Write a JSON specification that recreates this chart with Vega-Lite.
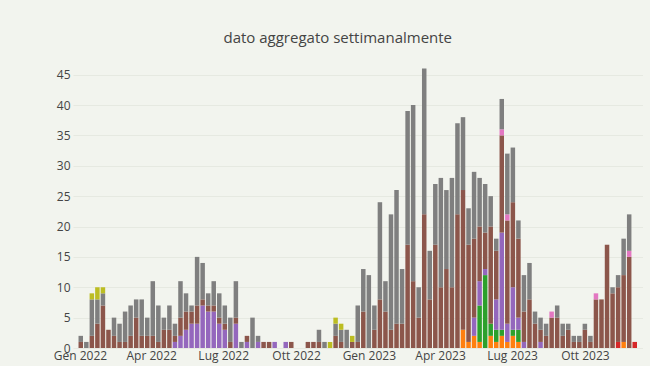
{
"$schema": "https://vega.github.io/schema/vega-lite/v6.json",
"width": 569.5, "height": 294,
"autosize": {"type": "none"},
"padding": {"left": 73, "top": 54, "right": 7.5, "bottom": 18},
"background": "#f2f4ee",
"config": {"view": {"stroke": null}, "font": "Open Sans"},
"title": {"text": "dato aggregato settimanalmente", "fontSize": 15, "fontWeight": "normal", "color": "#444444", "dx": -20, "offset": 8, "font": "Open Sans"},
"data": {"values": [
{"d":"2022-01-02","c":"E","n":1},{"d":"2022-01-02","c":"G","n":1},
{"d":"2022-01-09","c":"G","n":1},
{"d":"2022-01-16","c":"E","n":2},{"d":"2022-01-16","c":"G","n":6},{"d":"2022-01-16","c":"H","n":1},
{"d":"2022-01-23","c":"E","n":4},{"d":"2022-01-23","c":"G","n":4},{"d":"2022-01-23","c":"H","n":2},
{"d":"2022-01-30","c":"E","n":7},{"d":"2022-01-30","c":"G","n":2},{"d":"2022-01-30","c":"H","n":1},
{"d":"2022-02-06","c":"E","n":3},
{"d":"2022-02-13","c":"E","n":2},{"d":"2022-02-13","c":"G","n":3},
{"d":"2022-02-20","c":"E","n":1},{"d":"2022-02-20","c":"G","n":3},
{"d":"2022-02-27","c":"E","n":1},{"d":"2022-02-27","c":"G","n":5},
{"d":"2022-03-06","c":"E","n":2},{"d":"2022-03-06","c":"G","n":5},
{"d":"2022-03-13","c":"E","n":5},{"d":"2022-03-13","c":"G","n":3},
{"d":"2022-03-20","c":"E","n":2},{"d":"2022-03-20","c":"G","n":6},
{"d":"2022-03-27","c":"E","n":2},{"d":"2022-03-27","c":"G","n":3},
{"d":"2022-04-03","c":"E","n":2},{"d":"2022-04-03","c":"G","n":9},
{"d":"2022-04-10","c":"E","n":1},{"d":"2022-04-10","c":"G","n":6},
{"d":"2022-04-17","c":"E","n":3},{"d":"2022-04-17","c":"G","n":2},
{"d":"2022-04-24","c":"E","n":3},{"d":"2022-04-24","c":"G","n":4},
{"d":"2022-05-01","c":"D","n":1},{"d":"2022-05-01","c":"E","n":1},{"d":"2022-05-01","c":"G","n":2},
{"d":"2022-05-08","c":"D","n":2},{"d":"2022-05-08","c":"E","n":3},{"d":"2022-05-08","c":"G","n":6},
{"d":"2022-05-15","c":"D","n":3},{"d":"2022-05-15","c":"E","n":3},{"d":"2022-05-15","c":"G","n":3},
{"d":"2022-05-22","c":"D","n":4},{"d":"2022-05-22","c":"E","n":2},{"d":"2022-05-22","c":"G","n":1},
{"d":"2022-05-29","c":"D","n":4},{"d":"2022-05-29","c":"E","n":3},{"d":"2022-05-29","c":"G","n":8},
{"d":"2022-06-05","c":"D","n":7},{"d":"2022-06-05","c":"E","n":1},{"d":"2022-06-05","c":"G","n":6},
{"d":"2022-06-12","c":"D","n":6},{"d":"2022-06-12","c":"E","n":1},{"d":"2022-06-12","c":"G","n":2},
{"d":"2022-06-19","c":"D","n":6},{"d":"2022-06-19","c":"E","n":1},{"d":"2022-06-19","c":"G","n":4},
{"d":"2022-06-26","c":"D","n":4},{"d":"2022-06-26","c":"E","n":1},{"d":"2022-06-26","c":"G","n":4},
{"d":"2022-07-03","c":"D","n":3},{"d":"2022-07-03","c":"E","n":1},{"d":"2022-07-03","c":"G","n":3},
{"d":"2022-07-10","c":"E","n":1},{"d":"2022-07-10","c":"G","n":4},
{"d":"2022-07-17","c":"D","n":4},{"d":"2022-07-17","c":"E","n":1},{"d":"2022-07-17","c":"G","n":6},
{"d":"2022-07-24","c":"G","n":1},
{"d":"2022-07-31","c":"D","n":1},{"d":"2022-07-31","c":"E","n":1},
{"d":"2022-08-07","c":"G","n":5},
{"d":"2022-08-14","c":"D","n":1},{"d":"2022-08-14","c":"G","n":1},
{"d":"2022-08-21","c":"E","n":1},
{"d":"2022-08-28","c":"E","n":1},
{"d":"2022-09-04","c":"D","n":1},
{"d":"2022-09-18","c":"D","n":1},
{"d":"2022-09-25","c":"E","n":1},
{"d":"2022-10-16","c":"E","n":1},
{"d":"2022-10-23","c":"E","n":1},
{"d":"2022-10-30","c":"E","n":1},{"d":"2022-10-30","c":"G","n":2},
{"d":"2022-11-06","c":"G","n":1},
{"d":"2022-11-13","c":"H","n":1},
{"d":"2022-11-20","c":"E","n":2},{"d":"2022-11-20","c":"G","n":2},{"d":"2022-11-20","c":"H","n":1},
{"d":"2022-11-27","c":"E","n":1},{"d":"2022-11-27","c":"G","n":2},{"d":"2022-11-27","c":"H","n":1},
{"d":"2022-12-04","c":"G","n":3},
{"d":"2022-12-11","c":"E","n":1},{"d":"2022-12-11","c":"H","n":1},
{"d":"2022-12-18","c":"E","n":1},{"d":"2022-12-18","c":"G","n":6},
{"d":"2022-12-25","c":"E","n":6},{"d":"2022-12-25","c":"G","n":7},
{"d":"2023-01-01","c":"G","n":12},
{"d":"2023-01-08","c":"E","n":3},{"d":"2023-01-08","c":"G","n":4},
{"d":"2023-01-15","c":"E","n":8},{"d":"2023-01-15","c":"G","n":16},
{"d":"2023-01-22","c":"E","n":6},{"d":"2023-01-22","c":"G","n":5},
{"d":"2023-01-29","c":"E","n":3},{"d":"2023-01-29","c":"G","n":19},
{"d":"2023-02-05","c":"E","n":4},{"d":"2023-02-05","c":"G","n":22},
{"d":"2023-02-12","c":"E","n":4},{"d":"2023-02-12","c":"G","n":9},
{"d":"2023-02-19","c":"E","n":17},{"d":"2023-02-19","c":"G","n":22},
{"d":"2023-02-26","c":"E","n":11},{"d":"2023-02-26","c":"G","n":29},
{"d":"2023-03-05","c":"E","n":5},{"d":"2023-03-05","c":"G","n":5},
{"d":"2023-03-12","c":"E","n":22},{"d":"2023-03-12","c":"G","n":24},
{"d":"2023-03-19","c":"E","n":8},{"d":"2023-03-19","c":"G","n":8},
{"d":"2023-03-26","c":"E","n":17},{"d":"2023-03-26","c":"G","n":10},
{"d":"2023-04-02","c":"E","n":10},{"d":"2023-04-02","c":"G","n":18},
{"d":"2023-04-09","c":"E","n":13},{"d":"2023-04-09","c":"G","n":13},
{"d":"2023-04-16","c":"E","n":10},{"d":"2023-04-16","c":"G","n":18},
{"d":"2023-04-23","c":"E","n":22},{"d":"2023-04-23","c":"G","n":15},
{"d":"2023-04-30","c":"A","n":3},{"d":"2023-04-30","c":"E","n":23},{"d":"2023-04-30","c":"G","n":12},
{"d":"2023-05-07","c":"A","n":1},{"d":"2023-05-07","c":"E","n":16},{"d":"2023-05-07","c":"G","n":6},
{"d":"2023-05-14","c":"A","n":2},{"d":"2023-05-14","c":"D","n":3},{"d":"2023-05-14","c":"E","n":13},{"d":"2023-05-14","c":"G","n":11},
{"d":"2023-05-21","c":"A","n":1},{"d":"2023-05-21","c":"B","n":6},{"d":"2023-05-21","c":"D","n":4},{"d":"2023-05-21","c":"E","n":9},{"d":"2023-05-21","c":"G","n":8},
{"d":"2023-05-28","c":"B","n":12},{"d":"2023-05-28","c":"D","n":1},{"d":"2023-05-28","c":"E","n":6},{"d":"2023-05-28","c":"G","n":8},
{"d":"2023-06-04","c":"A","n":2},{"d":"2023-06-04","c":"B","n":2},{"d":"2023-06-04","c":"E","n":16},{"d":"2023-06-04","c":"G","n":5},
{"d":"2023-06-11","c":"A","n":1},{"d":"2023-06-11","c":"B","n":2},{"d":"2023-06-11","c":"D","n":5},{"d":"2023-06-11","c":"E","n":8},{"d":"2023-06-11","c":"G","n":2},
{"d":"2023-06-18","c":"A","n":2},{"d":"2023-06-18","c":"B","n":1},{"d":"2023-06-18","c":"D","n":16},{"d":"2023-06-18","c":"E","n":16},{"d":"2023-06-18","c":"F","n":1},{"d":"2023-06-18","c":"G","n":5},
{"d":"2023-06-25","c":"A","n":1},{"d":"2023-06-25","c":"D","n":3},{"d":"2023-06-25","c":"E","n":17},{"d":"2023-06-25","c":"F","n":1},{"d":"2023-06-25","c":"G","n":10},
{"d":"2023-07-02","c":"A","n":2},{"d":"2023-07-02","c":"B","n":1},{"d":"2023-07-02","c":"D","n":7},{"d":"2023-07-02","c":"E","n":14},{"d":"2023-07-02","c":"G","n":9},
{"d":"2023-07-09","c":"A","n":1},{"d":"2023-07-09","c":"B","n":2},{"d":"2023-07-09","c":"D","n":2},{"d":"2023-07-09","c":"E","n":13},{"d":"2023-07-09","c":"G","n":3},
{"d":"2023-07-16","c":"D","n":1},{"d":"2023-07-16","c":"E","n":5},{"d":"2023-07-16","c":"G","n":6},
{"d":"2023-07-23","c":"E","n":8},{"d":"2023-07-23","c":"G","n":6},
{"d":"2023-07-30","c":"E","n":4},{"d":"2023-07-30","c":"G","n":2},
{"d":"2023-08-06","c":"D","n":1},{"d":"2023-08-06","c":"E","n":2},{"d":"2023-08-06","c":"G","n":2},
{"d":"2023-08-13","c":"E","n":2},{"d":"2023-08-13","c":"G","n":2},
{"d":"2023-08-20","c":"E","n":5},{"d":"2023-08-20","c":"F","n":1},
{"d":"2023-08-27","c":"E","n":5},{"d":"2023-08-27","c":"G","n":2},
{"d":"2023-09-03","c":"E","n":2},{"d":"2023-09-03","c":"G","n":2},
{"d":"2023-09-10","c":"E","n":3},{"d":"2023-09-10","c":"G","n":1},
{"d":"2023-09-17","c":"E","n":1},{"d":"2023-09-17","c":"G","n":1},
{"d":"2023-09-24","c":"E","n":1},{"d":"2023-09-24","c":"G","n":1},
{"d":"2023-10-01","c":"E","n":3},{"d":"2023-10-01","c":"G","n":1},
{"d":"2023-10-08","c":"E","n":1},{"d":"2023-10-08","c":"G","n":1},
{"d":"2023-10-15","c":"E","n":8},{"d":"2023-10-15","c":"F","n":1},
{"d":"2023-10-22","c":"E","n":8},
{"d":"2023-10-29","c":"E","n":17},
{"d":"2023-11-05","c":"E","n":9},{"d":"2023-11-05","c":"G","n":1},
{"d":"2023-11-12","c":"C","n":1},{"d":"2023-11-12","c":"E","n":9},{"d":"2023-11-12","c":"G","n":2},
{"d":"2023-11-19","c":"A","n":1},{"d":"2023-11-19","c":"E","n":11},{"d":"2023-11-19","c":"G","n":6},
{"d":"2023-11-26","c":"E","n":15},{"d":"2023-11-26","c":"F","n":1},{"d":"2023-11-26","c":"G","n":6},
{"d":"2023-12-03","c":"C","n":1}
]},
"mark": {"type": "bar", "width": 4.5},
"encoding": {
"x": {"field": "d", "type": "temporal",
 "scale": {"type": "utc", "domain": [{"year": 2021, "month": 12, "date": 29, "hours": 12, "utc": true}, {"year": 2023, "month": 12, "date": 6, "hours": 12, "utc": true}]},
 "axis": {"title": null, "tickCount": {"interval": "month", "step": 3}, "labelExpr": "['Gen','Feb','Mar','Apr','Mag','Giu','Lug','Ago','Set','Ott','Nov','Dic'][utcmonth(datum.value)] + ' ' + utcyear(datum.value)", "grid": false, "ticks": false, "domain": false, "labelFlush": false, "labelOverlap": false, "labelFontSize": 12, "labelColor": "#444444", "labelPadding": 2, "labelFont": "Open Sans"}},
"y": {"field": "n", "type": "quantitative", "stack": "zero",
 "scale": {"domain": [0, 48.4], "nice": false},
 "axis": {"title": null, "values": [0,5,10,15,20,25,30,35,40,45], "grid": true, "gridColor": "#e6e9e1", "ticks": false, "domain": false, "labelFontSize": 12, "labelColor": "#444444", "labelPadding": 3, "labelFont": "Open Sans"}},
"color": {"field": "c", "type": "nominal", "legend": null,
 "scale": {"domain": ["A","B","C","D","E","F","G","H"], "range": ["#ff7f0e","#2ca02c","#d62728","#9467bd","#8c564b","#e377c2","#7f7f7f","#bcbd22"]}},
"order": {"field": "c", "sort": "ascending"}
}
}
